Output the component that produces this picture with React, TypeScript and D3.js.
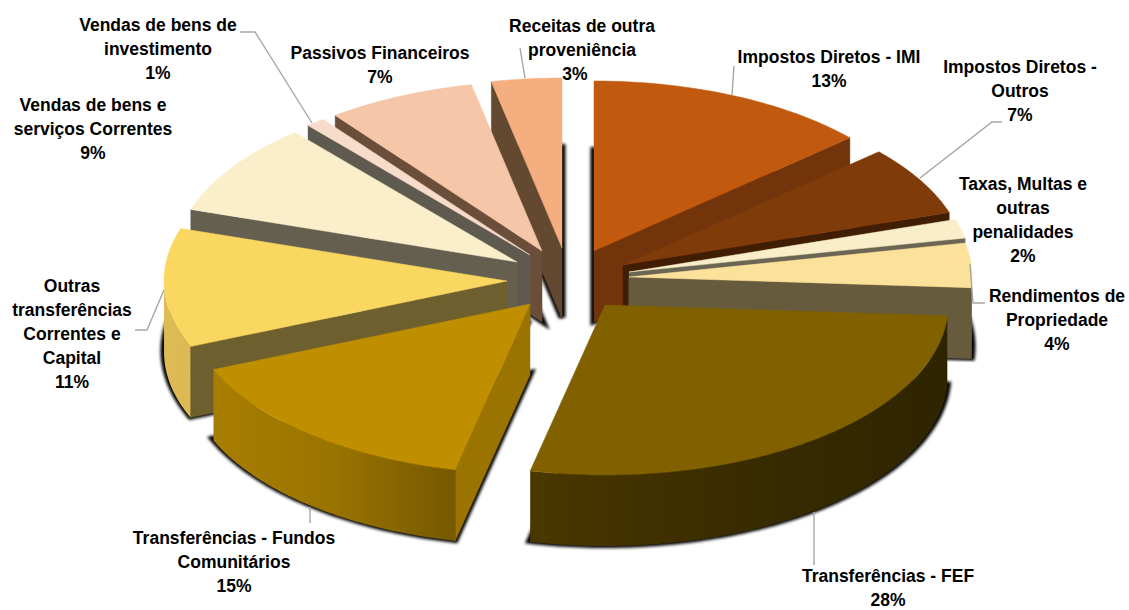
import React from "react";
import * as d3 from "d3";

const categories = [
  ["Impostos Diretos - IMI"],
  ["Impostos Diretos -", "Outros"],
  ["Taxas, Multas e", "outras", "penalidades"],
  ["Rendimentos de", "Propriedade"],
  ["Transferências - FEF"],
  ["Transferências - Fundos", "Comunitários"],
  ["Outras", "transferências", "Correntes e", "Capital"],
  ["Vendas de bens e", "serviços Correntes"],
  ["Vendas de bens de", "investimento"],
  ["Passivos Financeiros"],
  ["Receitas de outra", "proveniência"],
];
const values = [13.4, 6.6, 1.8, 4.2, 27.5, 15.2, 11.3, 8.8, 0.9, 7.0, 3.3];

const topColors = ["#C1590F", "#7F3B0A", "#F9EEC9", "#FBE19A", "#816000", "#BF8F00", "#F9D760", "#FBEFCB", "#F8DCCB", "#F5C6A7", "#F4AE80"];
const wallColors = ["#72350B", "#401D03", "#6B6553", "#665C3D", "#362900", "#9A7300", "#6E5F2E", "#655F50", "#5F5A50", "#6B4E39", "#624930"];
const rimStops = [
  ["#72350B", "#72350B"], ["#401D03", "#401D03"], ["#6B6553", "#6B6553"], ["#665C3D", "#665C3D"],
  ["#4A3700", "#3A2C00", "#2E2400"], ["#A87E00", "#9A7300", "#755800"], ["#DFBB55", "#DDB955"],
  ["#655F50", "#655F50"], ["#5F5A50", "#5F5A50"], ["#6B4E39", "#6B4E39"], ["#624930", "#624930"],
];

// exploded slice displacement from the pie centre, px
const explodeX = [18, 47, 53, 53, 29, -46, -69, -59, -46, -34, -14];
const explodeY = [-20, -6, 1, 6, 34, 33, 10, -9, -16, -20, -23];
// back-to-front drawing order
const paintOrder = [0, 1, 2, 3, 10, 9, 8, 7, 6, 5, 4];

// label anchor: centre x, first-line centre y, x nudge of the percentage row
const labelX = [829, 1020, 1023, 1057, 888, 234, 72, 93, 158, 380, 582];
const labelY = [57, 67, 184, 296, 576, 538, 286, 105, 25, 53, 26];
const pctNudge = [0, 0, 0, 0, 0, 0, 0, 0, 0, 0, -7];

const leaders = [
  [[732, 95], [734, 66]],
  [[920, 178], [992, 122], [1002, 122]],
  [[970, 264], [973, 303], [985, 303]],
  [[814, 512], [814, 565]],
  [[310, 507], [310, 523]],
  [[164, 290], [147, 330], [135, 330]],
  [[312, 123], [255, 32], [240, 32]],
  [[525, 78], [520, 48]],
];

const W = 1129, H = 610;
const CX = 576, CY = 271, DEPTH = 71;
const px = d3.scaleLinear().domain([-1, 1]).range([-343, 343]);
const py = d3.scaleLinear().domain([-1, 1]).range([-170, 170]);
const LH = 24;

type Pt = [number, number];
const line = d3.line<Pt>();

export default function App() {
  const arcs = d3.pie<number>().sort(null).value((d) => d)(values);

  const slices = arcs.map((a, i) => {
    const ax = CX + explodeX[i], ay = CY + explodeY[i];
    const at = (t: number): Pt => [ax + px(Math.sin(t)), ay + py(-Math.cos(t))];
    const down = (p: Pt): Pt => [p[0], p[1] + DEPTH];
    const steps = Math.max(4, Math.ceil((a.endAngle - a.startAngle) * 60));
    const ts = d3.range(steps + 1).map((k) => a.startAngle + ((a.endAngle - a.startAngle) * k) / steps);
    const rim = ts.map(at);
    const apex: Pt = [ax, ay];
    const top = (line([apex, ...rim]) as string) + "Z";
    const base = (line([apex, ...rim].map(down)) as string) + "Z";
    const walls: string[] = [];
    if (Math.sin(a.startAngle) < -0.001) {
      const p = at(a.startAngle);
      walls.push((line([apex, p, down(p), down(apex)]) as string) + "Z");
    }
    if (Math.sin(a.endAngle) > 0.001) {
      const p = at(a.endAngle);
      walls.push((line([apex, p, down(p), down(apex)]) as string) + "Z");
    }
    const front = ts.filter((t) => Math.cos(t) < 0).map(at);
    const outer = front.length > 1 ? (line([...front, ...front.slice().reverse().map(down)]) as string) + "Z" : null;
    const frontX = front.length ? (d3.extent(front, (d) => d[0]) as [number, number]) : [0, 1];
    return { i, top, base, walls, outer, frontX };
  });

  const font = "'Liberation Sans', Arial, sans-serif";

  return (
    <svg width={W} height={H} viewBox={`0 0 ${W} ${H}`} style={{ position: "absolute", left: 0, top: 0, background: "#fff" }}>
      <defs>
        <filter id="soft" x="-10%" y="-10%" width="120%" height="120%">
          <feGaussianBlur stdDeviation="1.8" />
        </filter>
        {slices.map((s) => (
          <linearGradient key={s.i} id={`rim${s.i}`} gradientUnits="userSpaceOnUse" x1={s.frontX[0]} x2={s.frontX[1]} y1={0} y2={0}>
            {rimStops[s.i].map((c, k) => (
              <stop key={k} offset={k / (rimStops[s.i].length - 1)} stopColor={c} />
            ))}
          </linearGradient>
        ))}
      </defs>
      {paintOrder.map((idx) => {
        const s = slices[idx];
        return (
          <g key={idx}>
            <path d={s.base} fill="#000" stroke="#000" strokeWidth={7} filter="url(#soft)" transform="translate(0,-1.5)" />
            {s.walls.map((d, k) => (
              <path key={k} d={d} fill={wallColors[idx]} stroke={wallColors[idx]} strokeWidth={0.5} />
            ))}
            {s.outer && <path d={s.outer} fill={`url(#rim${idx})`} />}
            <path d={s.top} fill={topColors[idx]} stroke={topColors[idx]} strokeWidth={0.5} />
          </g>
        );
      })}
      {leaders.map((l, i) => (
        <path key={i} d={line(l as Pt[]) as string} fill="none" stroke="#A6A6A6" strokeWidth={1.4} />
      ))}
      {categories.map((lines, i) => {
        const rows = [...lines, `${d3.format(".0f")(values[i])}%`];
        return (
          <text key={i} fontFamily={font} fontWeight="bold" fontSize={17.5} fill="#000" textAnchor="middle">
            {rows.map((t, k) => (
              <tspan key={k} x={labelX[i] + (k === rows.length - 1 ? pctNudge[i] : 0)} y={labelY[i] + k * LH} dy="0.35em">
                {t}
              </tspan>
            ))}
          </text>
        );
      })}
    </svg>
  );
}
